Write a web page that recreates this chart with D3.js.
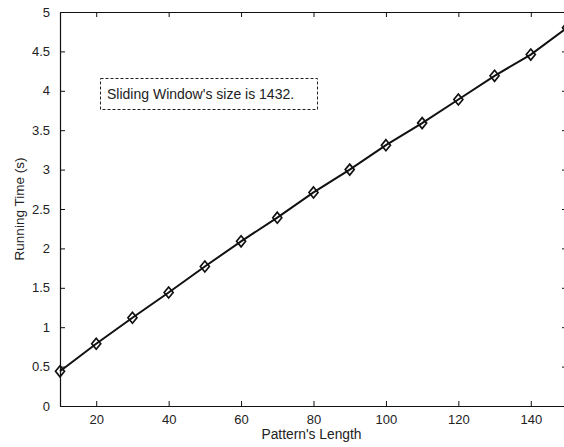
<!DOCTYPE html>
<html>
<head>
<meta charset="utf-8">
<script src="https://cdn.jsdelivr.net/npm/d3@7"></script>
<style>
  html, body { margin: 0; padding: 0; background: #fff; }
  svg { display: block; }
  text { font-family: "Liberation Sans", Arial, Helvetica, sans-serif; fill: #222; }
</style>
</head>
<body>
<svg id="chart" width="564" height="447"></svg>
<script>
// Pattern length vs. running time
const patternLength = [10, 20, 30, 40, 50, 60, 70, 80, 90, 100, 110, 120, 130, 140, 150];
const runningTime   = [0.44, 0.79, 1.12, 1.44, 1.77, 2.09, 2.39, 2.71, 3.00, 3.31, 3.59, 3.89, 4.19, 4.46, 4.80];
const xTicks = [20, 40, 60, 80, 100, 120, 140];
const yTicks = [0, 0.5, 1, 1.5, 2, 2.5, 3, 3.5, 4, 4.5, 5];
const xTitle = "Pattern's Length";
const yTitle = "Running Time (s)";
const note = "Sliding Window's size is 1432.";

const svg = d3.select("#chart");
const plotLeft = 60, plotRight = 567, plotTop = 12, plotBottom = 406;

const x = d3.scaleLinear().domain([10, 150]).range([plotLeft, plotRight]);
const y = d3.scaleLinear().domain([0, 5]).range([plotBottom, plotTop]);

const tickLen = 5;

// bottom axis with inward ticks
const gx = svg.append("g").attr("transform", `translate(0,${plotBottom})`)
  .call(d3.axisBottom(x).tickValues(xTicks).tickSizeInner(-tickLen).tickSizeOuter(0).tickPadding(9)
        .tickFormat(d3.format("d")));
// top axis (ticks only)
const gxt = svg.append("g").attr("transform", `translate(0,${plotTop})`)
  .call(d3.axisTop(x).tickValues(xTicks).tickSizeInner(-tickLen).tickSizeOuter(0).tickFormat(""));
// left axis
const gy = svg.append("g").attr("transform", `translate(${plotLeft},0)`)
  .call(d3.axisLeft(y).tickValues(yTicks).tickSizeInner(-tickLen).tickSizeOuter(0).tickPadding(10)
        .tickFormat(d => String(d)));
// right axis (ticks only)
const gyr = svg.append("g").attr("transform", `translate(${plotRight},0)`)
  .call(d3.axisRight(y).tickValues(yTicks).tickSizeInner(-tickLen).tickSizeOuter(0).tickFormat(""));

[gx, gxt, gy, gyr].forEach(g => {
  g.select(".domain").attr("stroke", "#111").attr("stroke-width", 1.2);
  g.selectAll(".tick line").attr("stroke", "#111");
  g.selectAll("text").attr("font-size", 13).attr("fill", "#222")
    .attr("font-family", "'Liberation Sans', Arial, sans-serif");
});

// axis titles
svg.append("text")
  .attr("x", (plotLeft + plotRight) / 2 - 2).attr("y", 439)
  .attr("text-anchor", "middle").attr("font-size", 13.8)
  .text(xTitle);
svg.append("text")
  .attr("transform", `translate(24,${(plotTop + plotBottom) / 2}) rotate(-90)`)
  .attr("text-anchor", "middle").attr("font-size", 13.5)
  .text(yTitle);

// data line
const pts = patternLength.map((d, i) => [d, runningTime[i]]);
svg.append("path")
  .datum(pts)
  .attr("fill", "none").attr("stroke", "#111").attr("stroke-width", 2)
  .attr("d", d3.line().x(d => x(d[0])).y(d => y(d[1])));

// diamond markers
const dw = 4.5, dh = 5.5;
svg.append("g").selectAll("path").data(pts).join("path")
  .attr("transform", d => `translate(${x(d[0])},${y(d[1])})`)
  .attr("d", `M0,${-dh}L${dw},0L0,${dh}L${-dw},0Z`)
  .attr("fill", "none").attr("stroke", "#111").attr("stroke-width", 1.7);

// annotation box
const noteG = svg.append("g");
noteG.append("rect")
  .attr("x", 100.5).attr("y", 78.5).attr("width", 217).attr("height", 31)
  .attr("fill", "#fff").attr("stroke", "#222").attr("stroke-width", 1)
  .attr("stroke-dasharray", "3,2");
noteG.append("text")
  .attr("x", 107).attr("y", 99).attr("font-size", 14)
  .text(note);
</script>
</body>
</html>
